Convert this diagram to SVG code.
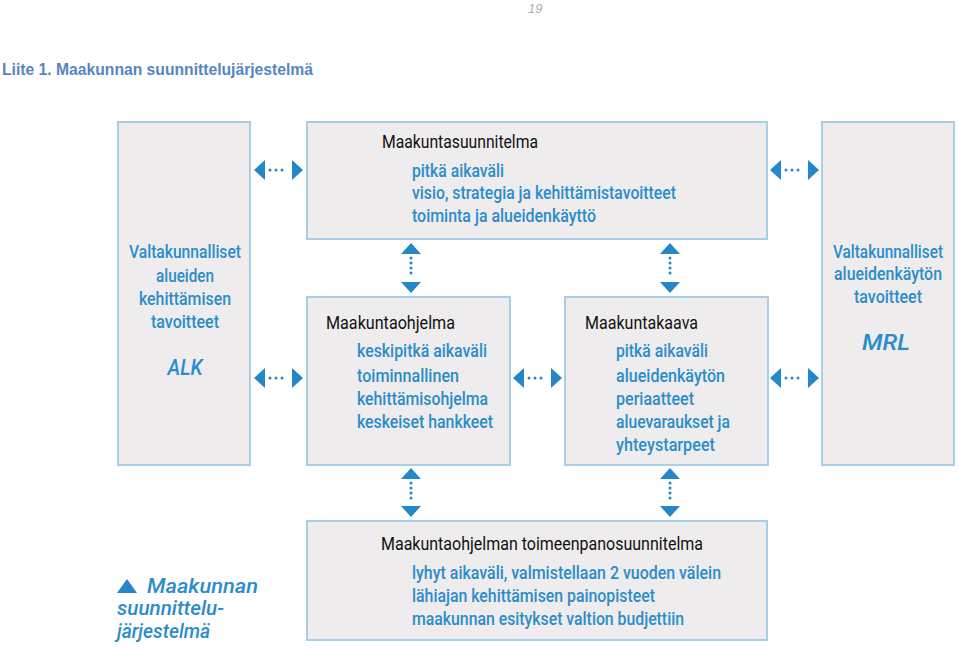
<svg xmlns="http://www.w3.org/2000/svg" width="959" height="648" viewBox="0 0 959 648">
<style>
.box{fill:#eeecec;stroke:#a9cfe8;stroke-width:2}
.t{font-family:Roboto,"Open Sans",sans-serif;font-size:18.5px;fill:#111111}
.b{font-family:Roboto,"Open Sans",sans-serif;font-size:18.5px;font-weight:500;fill:#2b8ccb}
.i{font-family:Roboto,"Open Sans",sans-serif;font-style:italic;font-weight:500;fill:#2b8ccb}
.ah{fill:#2387c8}
.dot{stroke:#2387c8;stroke-width:3;stroke-linecap:round;fill:none}
</style>
<rect width="959" height="648" fill="#ffffff"/>
<text x="528" y="13" font-family="'Liberation Sans',sans-serif" font-style="italic" font-size="13" fill="#b0b0b0">19</text>
<text x="2" y="75" font-family="'Liberation Sans',sans-serif" font-weight="bold" font-size="17" fill="#5585c2" textLength="311" lengthAdjust="spacingAndGlyphs">Liite 1. Maakunnan suunnittelujärjestelmä</text>

<g id="alk">
<rect class="box" x="118" y="122" width="132" height="343"/>
<text class="b" x="185" y="258" text-anchor="middle" font-size="17" style="font-size:17.5px" textLength="112" lengthAdjust="spacingAndGlyphs">Valtakunnalliset</text>
<text class="b" x="185" y="282" text-anchor="middle" textLength="58" lengthAdjust="spacingAndGlyphs">alueiden</text>
<text class="b" x="185" y="305" text-anchor="middle" textLength="92" lengthAdjust="spacingAndGlyphs">kehittämisen</text>
<text class="b" x="185" y="328" text-anchor="middle" textLength="68" lengthAdjust="spacingAndGlyphs">tavoitteet</text>
<text class="i" x="185" y="375" text-anchor="middle" font-size="22" textLength="35" lengthAdjust="spacingAndGlyphs">ALK</text>
</g>

<g id="maakuntasuunnitelma">
<rect class="box" x="307" y="122" width="460" height="117"/>
<text class="t" x="382" y="148" textLength="156" lengthAdjust="spacingAndGlyphs">Maakuntasuunnitelma</text>
<text class="b" x="412" y="177" textLength="92" lengthAdjust="spacingAndGlyphs">pitkä aikaväli</text>
<text class="b" x="412" y="199" textLength="264" lengthAdjust="spacingAndGlyphs">visio, strategia ja kehittämistavoitteet</text>
<text class="b" x="412" y="222" textLength="184" lengthAdjust="spacingAndGlyphs">toiminta ja alueidenkäyttö</text>
</g>

<g id="mrl">
<rect class="box" x="822" y="122" width="132" height="343"/>
<text class="b" x="888" y="258" text-anchor="middle" style="font-size:17.5px" textLength="110" lengthAdjust="spacingAndGlyphs">Valtakunnalliset</text>
<text class="b" x="888" y="280" text-anchor="middle" textLength="108" lengthAdjust="spacingAndGlyphs">alueidenkäytön</text>
<text class="b" x="888" y="303" text-anchor="middle" textLength="68" lengthAdjust="spacingAndGlyphs">tavoitteet</text>
<text class="i" x="886" y="350" text-anchor="middle" font-size="22" textLength="48" lengthAdjust="spacingAndGlyphs">MRL</text>
</g>

<g id="maakuntaohjelma">
<rect class="box" x="307" y="297" width="203" height="168"/>
<text class="t" x="326" y="329" textLength="129" lengthAdjust="spacingAndGlyphs">Maakuntaohjelma</text>
<text class="b" x="357" y="357" textLength="130" lengthAdjust="spacingAndGlyphs">keskipitkä aikaväli</text>
<text class="b" x="357" y="382" textLength="102" lengthAdjust="spacingAndGlyphs">toiminnallinen</text>
<text class="b" x="357" y="405" textLength="131" lengthAdjust="spacingAndGlyphs">kehittämisohjelma</text>
<text class="b" x="357" y="428" textLength="136" lengthAdjust="spacingAndGlyphs">keskeiset hankkeet</text>
</g>

<g id="maakuntakaava">
<rect class="box" x="565" y="297" width="203" height="168"/>
<text class="t" x="585" y="329" textLength="113" lengthAdjust="spacingAndGlyphs">Maakuntakaava</text>
<text class="b" x="616" y="357" textLength="92" lengthAdjust="spacingAndGlyphs">pitkä aikaväli</text>
<text class="b" x="616" y="382" textLength="109" lengthAdjust="spacingAndGlyphs">alueidenkäytön</text>
<text class="b" x="616" y="405" textLength="78" lengthAdjust="spacingAndGlyphs">periaatteet</text>
<text class="b" x="616" y="428" textLength="114" lengthAdjust="spacingAndGlyphs">aluevaraukset ja</text>
<text class="b" x="616" y="451" textLength="99" lengthAdjust="spacingAndGlyphs">yhteystarpeet</text>
</g>

<g id="toimeenpanosuunnitelma">
<rect class="box" x="307" y="521" width="460" height="119"/>
<text class="t" x="381" y="550" textLength="322" lengthAdjust="spacingAndGlyphs">Maakuntaohjelman toimeenpanosuunnitelma</text>
<text class="b" x="412" y="579" textLength="309" lengthAdjust="spacingAndGlyphs">lyhyt aikaväli, valmistellaan 2 vuoden välein</text>
<text class="b" x="412" y="602" textLength="243" lengthAdjust="spacingAndGlyphs">lähiajan kehittämisen painopisteet</text>
<text class="b" x="412" y="625" textLength="272" lengthAdjust="spacingAndGlyphs">maakunnan esitykset valtion budjettiin</text>
</g>

<g id="legend">
<polygon class="ah" points="117,593 127,579 137,593"/>
<text class="i" x="147" y="593" font-size="21" textLength="111" lengthAdjust="spacingAndGlyphs">Maakunnan</text>
<text class="i" x="117" y="615" font-size="21" textLength="107" lengthAdjust="spacingAndGlyphs">suunnittelu-</text>
<text class="i" x="117" y="638" font-size="21" textLength="93" lengthAdjust="spacingAndGlyphs">järjestelmä</text>
</g>

<g id="connectors">
<g id="h1">
<polygon class="ah" points="254,170 265,160 265,180"/>
<line class="dot" x1="270" y1="170" x2="288" y2="170" stroke-dasharray="0 6"/>
<polygon class="ah" points="303,170 292,160 292,180"/>
</g>
<g id="h2">
<polygon class="ah" points="770,170 781,160 781,180"/>
<line class="dot" x1="786" y1="170" x2="804" y2="170" stroke-dasharray="0 6"/>
<polygon class="ah" points="819,170 808,160 808,180"/>
</g>
<g id="h3">
<polygon class="ah" points="254,378 265,368 265,388"/>
<line class="dot" x1="270" y1="378" x2="288" y2="378" stroke-dasharray="0 6"/>
<polygon class="ah" points="303,378 292,368 292,388"/>
</g>
<g id="h4">
<polygon class="ah" points="513,378 524,368 524,388"/>
<line class="dot" x1="529" y1="378" x2="547" y2="378" stroke-dasharray="0 6"/>
<polygon class="ah" points="562,378 551,368 551,388"/>
</g>
<g id="h5">
<polygon class="ah" points="770,378 781,368 781,388"/>
<line class="dot" x1="786" y1="378" x2="804" y2="378" stroke-dasharray="0 6"/>
<polygon class="ah" points="819,378 808,368 808,388"/>
</g>
<g id="v1">
<polygon class="ah" points="411,243 401,254 421,254"/>
<line class="dot" x1="411" y1="258" x2="411" y2="278" stroke-dasharray="0 5"/>
<polygon class="ah" points="411,293 401,282 421,282"/>
</g>
<g id="v2">
<polygon class="ah" points="670,243 660,254 680,254"/>
<line class="dot" x1="670" y1="258" x2="670" y2="278" stroke-dasharray="0 5"/>
<polygon class="ah" points="670,293 660,282 680,282"/>
</g>
<g id="v3">
<polygon class="ah" points="411,468 401,479 421,479"/>
<line class="dot" x1="411" y1="483" x2="411" y2="503" stroke-dasharray="0 5"/>
<polygon class="ah" points="411,517 401,506 421,506"/>
</g>
<g id="v4">
<polygon class="ah" points="670,468 660,479 680,479"/>
<line class="dot" x1="670" y1="483" x2="670" y2="503" stroke-dasharray="0 5"/>
<polygon class="ah" points="670,517 660,506 680,506"/>
</g>
</g>
</svg>
